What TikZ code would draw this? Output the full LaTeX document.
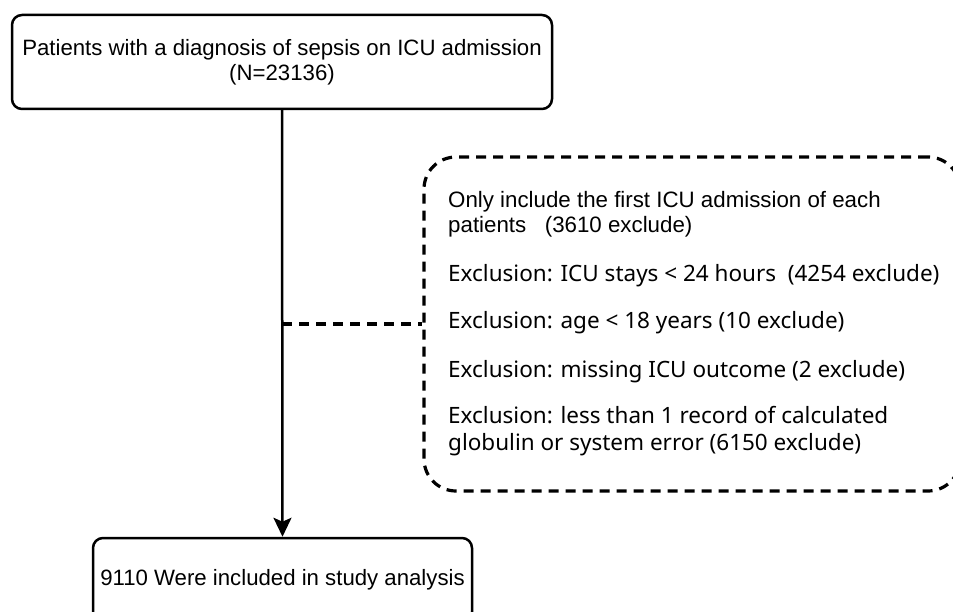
\documentclass[tikz,border=0pt]{standalone}
\usepackage{fontspec}
\setmainfont{Liberation Sans}
\newfontfamily\exclfont{Noto Sans}
\usetikzlibrary{arrows.meta}
\tikzset{
    stage/.style={draw=black, line width=2.5pt, rounded corners=10pt, align=center,
        font=\fontsize{22.2}{25}\selectfont},
    exclbox/.style={draw=black, line width=3.2pt, dash pattern=on 10pt off 7pt,
        rounded corners=32pt, minimum width=536pt, minimum height=334pt},
    note/.style={anchor=base west, align=left, inner sep=0pt},
    notefont/.style={font=\exclfont\fontsize{22.5}{27}\selectfont},
    linkdash/.style={line width=3.2pt, dash pattern=on 10pt off 7pt},
    flow/.style={line width=2.5pt, -{Stealth[length=19pt, width=18pt, inset=4pt]}}
}

\begin{document}
\begin{tikzpicture}[x=1pt, y=-1pt]
    \clip (0,0) rectangle (953,612);
    \node[stage, minimum width=540pt, minimum height=94pt] (sepsis) at (282,62)
        {Patients with a diagnosis of sepsis on ICU admission\\(N=23136)};
    \node[stage, minimum width=379pt, minimum height=84pt] (included) at (282.5,580)
        {9110 Were included in study analysis};
    \node[exclbox] (excl) at (692,324) {};
    % text rows, anchored at the baseline of their last line
    \node[note, font=\fontsize{22.3}{25}\selectfont] (first) at (448,233)
        {Only include the first ICU admission of each\\patients~~~(3610 exclude)};
    \node[note, notefont] (stay) at (448,282)
        {Exclusion: ICU stays < 24 hours~~(4254 exclude)};
    \node[note, notefont] (age) at (448,328)
        {Exclusion: age < 18 years (10 exclude)};
    \node[note, notefont] (outcome) at (448,377)
        {Exclusion: missing ICU outcome (2 exclude)};
    \node[note, notefont] (globulin) at (448,450)
        {Exclusion: less than 1 record of calculated\\globulin or system error (6150 exclude)};
    % main flow and side branch
    \draw[flow] (sepsis.south) -- (included.north);
    \coordinate (split) at (sepsis.south |- excl.west);
    \draw[linkdash] (split) -- (excl.west);
\end{tikzpicture}
\end{document}
